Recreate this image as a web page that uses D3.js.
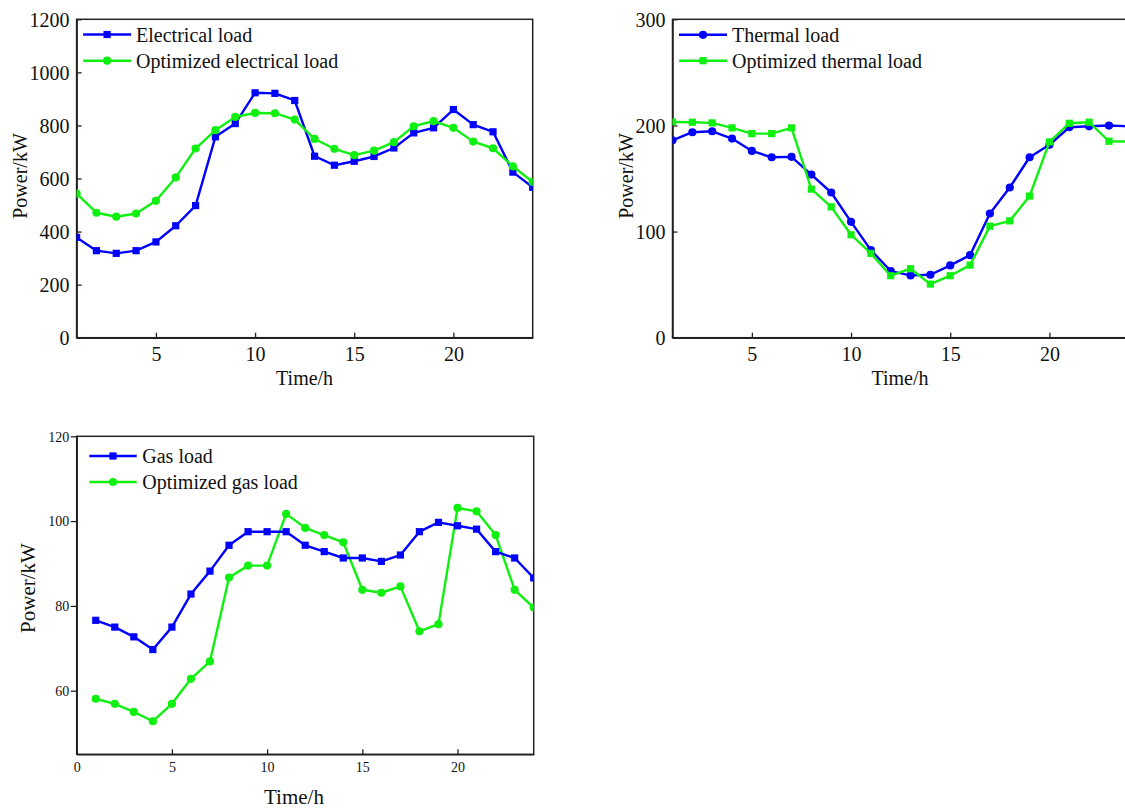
<!DOCTYPE html>
<html>
<head>
<meta charset="utf-8">
<script src="https://cdn.jsdelivr.net/npm/d3@7"></script>
<style>
  html, body { margin: 0; padding: 0; background: #fff; overflow: hidden; }
  svg { display: block; }
  text { font-family: "Liberation Serif", "Times New Roman", serif; fill: #111; }
</style>
</head>
<body>
<svg id="chart" width="1125" height="808"></svg>
<script>
// ---------- data ----------
const hours = d3.range(1, 25);

const electricalLoad = [378, 328, 318, 328, 361, 422, 498, 757, 807, 923, 921, 894,
                        684, 650, 665, 683, 715, 772, 791, 860, 803, 776, 624, 567];
const optimizedElectricalLoad = [543, 471, 456, 468, 516, 604, 713, 782, 832, 847, 846, 822,
                                 749, 712, 688, 705, 737, 797, 816, 791, 739, 714, 646, 587];

const thermalLoad = [186, 193.6, 194.5, 187.6, 176, 170, 170.4, 153.7, 136.8, 109.2, 82.5, 62.8,
                     58.7, 59.3, 68.1, 77.8, 117, 141.5, 170, 181.7, 198.3, 199.2, 199.9, 199.2];
const optimizedThermalLoad = [203.3, 203, 202.4, 197.7, 192.3, 192.3, 197.7, 140, 123.3, 97, 79.4, 58.4,
                              65, 50.5, 58.4, 68.4, 105.1, 110.1, 133.4, 184.5, 202, 203, 185.1, 184.8];

const gasLoad = [76.6, 75.0, 72.7, 69.7, 75.0, 82.8, 88.2, 94.3, 97.5, 97.5, 97.5, 94.3,
                 92.8, 91.3, 91.3, 90.5, 92.0, 97.5, 99.7, 98.9, 98.1, 92.8, 91.3, 86.6];
const optimizedGasLoad = [58.1, 56.9, 55.0, 52.8, 56.9, 62.8, 66.9, 86.7, 89.5, 89.5, 101.7, 98.4,
                          96.7, 95.0, 83.8, 83.1, 84.6, 74.0, 75.7, 103.1, 102.3, 96.7, 83.8, 79.6];

const electricalTicksY = [0, 200, 400, 600, 800, 1000, 1200];
const thermalTicksY = [0, 100, 200, 300];
const gasTicksY = [60, 80, 100, 120];
const timeTicks12 = [5, 10, 15, 20];
const timeTicks3 = [0, 5, 10, 15, 20];

const seriesNames1 = ["Electrical load", "Optimized electrical load"];
const seriesNames2 = ["Thermal load", "Optimized thermal load"];
const seriesNames3 = ["Gas load", "Optimized gas load"];
const xTitle = "Time/h";
const yTitle = "Power/kW";

const BLUE = "#0000ff";
const GREEN = "#10f010";

// ---------- drawing ----------
const svg = d3.select("#chart");
const defs = svg.append("defs");

function drawPanel(cfg) {
  const x = d3.scaleLinear().domain(cfg.xDomain).range([cfg.left, cfg.right]);
  const y = d3.scaleLinear().domain(cfg.yDomain).range([cfg.bottom, cfg.top]);
  const g = svg.append("g");

  const clipId = "clip-" + cfg.id;
  defs.append("clipPath").attr("id", clipId)
    .append("rect")
    .attr("x", cfg.left).attr("y", cfg.top)
    .attr("width", cfg.right - cfg.left).attr("height", cfg.bottom - cfg.top);

  // frame
  g.append("rect")
    .attr("x", cfg.left).attr("y", cfg.top)
    .attr("width", cfg.right - cfg.left).attr("height", cfg.bottom - cfg.top)
    .attr("fill", "none").attr("stroke", "#222").attr("stroke-width", 1.5);

  // axes
  const xAxis = d3.axisBottom(x).tickValues(cfg.xTicks).tickFormat(d3.format("d"))
    .tickSizeInner(-5).tickSizeOuter(0).tickPadding(0);
  const gx = g.append("g").attr("transform", `translate(0,${cfg.bottom})`).call(xAxis);
  gx.select(".domain").attr("stroke", "#222").attr("stroke-width", 1.5);
  gx.selectAll(".tick line").attr("stroke", "#222").attr("stroke-width", 1.3);
  gx.selectAll(".tick text")
    .attr("y", cfg.xLabelOffset).attr("dy", 0)
    .style("font-family", "Liberation Serif, serif")
    .style("font-size", cfg.tickFont + "px").attr("fill", cfg.tickColor);

  const yAxis = d3.axisLeft(y).tickValues(cfg.yTicks).tickFormat(d3.format("d"))
    .tickSizeInner(cfg.yTickSize).tickSizeOuter(0).tickPadding(cfg.yTickPad);
  const gy = g.append("g").attr("transform", `translate(${cfg.left},0)`).call(yAxis);
  gy.select(".domain").attr("stroke", "#222").attr("stroke-width", 1.5);
  gy.selectAll(".tick line").attr("stroke", "#222").attr("stroke-width", 1.3);
  gy.selectAll(".tick text")
    .attr("dy", cfg.yDy)
    .style("font-family", "Liberation Serif, serif")
    .style("font-size", cfg.tickFont + "px").attr("fill", cfg.tickColor);

  // titles
  g.append("text").attr("x", cfg.xTitleX).attr("y", cfg.xTitleY)
    .attr("text-anchor", "middle").style("font-size", cfg.titleFont + "px").text(xTitle);
  g.append("text")
    .attr("transform", `translate(${cfg.yTitleX},${cfg.yTitleY}) rotate(-90)`)
    .attr("text-anchor", "middle").style("font-size", cfg.titleFont + "px").text(yTitle);

  // series
  const plot = g.append("g").attr("clip-path", `url(#${clipId})`);
  const line = d3.line().x((d, i) => x(hours[i])).y(d => y(d));
  const order = cfg.drawOrder || [0, 1];
  order.forEach(si => {
    const s = cfg.series[si];
    plot.append("path").datum(s.values)
      .attr("fill", "none").attr("stroke", s.color).attr("stroke-width", 2.4)
      .attr("stroke-linejoin", "round").attr("d", line);
    drawMarkers(plot, s, s.values.map((v, i) => [x(hours[i]), y(v)]));
  });

  // legend
  cfg.series.forEach((s, i) => {
    const ly = cfg.legendY[i];
    const lg = g.append("g");
    lg.append("line")
      .attr("x1", cfg.left + cfg.legX1).attr("x2", cfg.left + cfg.legX2)
      .attr("y1", ly).attr("y2", ly)
      .attr("stroke", s.color).attr("stroke-width", 2.4);
    drawMarkers(lg, s, [[cfg.left + (cfg.legX1 + cfg.legX2) / 2, ly]]);
    lg.append("text").attr("x", cfg.left + cfg.legText).attr("y", ly + 7.3)
      .style("font-size", "20px").text(s.name);
  });
}

function drawMarkers(parent, s, pts) {
  if (s.marker === "square") {
    parent.selectAll(null).data(pts).enter().append("rect")
      .attr("x", d => d[0] - 3.6).attr("y", d => d[1] - 3.6)
      .attr("width", 7.2).attr("height", 7.2).attr("fill", s.color);
  } else {
    parent.selectAll(null).data(pts).enter().append("circle")
      .attr("cx", d => d[0]).attr("cy", d => d[1]).attr("r", 4.1).attr("fill", s.color);
  }
}

drawPanel({
  id: "elec", xDomain: [1, 24], yDomain: [0, 1200],
  left: 76.6, right: 532.7, top: 19.3, bottom: 337.7,
  xTicks: timeTicks12, yTicks: electricalTicksY,
  tickFont: 20, tickColor: "#111", xLabelOffset: 23.5,
  yTickSize: -5, yTickPad: 7, yDy: "0.34em",
  titleFont: 20, xTitleX: 304.6, xTitleY: 385, yTitleX: 26.5, yTitleY: 176,
  legX1: 6.5, legX2: 54.5, legText: 59.5, legendY: [34.5, 60.7],
  series: [
    { name: seriesNames1[0], values: electricalLoad, color: BLUE, marker: "square" },
    { name: seriesNames1[1], values: optimizedElectricalLoad, color: GREEN, marker: "circle" }
  ]
});

drawPanel({
  id: "therm", xDomain: [1, 24], yDomain: [0, 300],
  left: 672.5, right: 1128.8, top: 19.3, bottom: 337.7,
  xTicks: timeTicks12, yTicks: thermalTicksY,
  tickFont: 20, tickColor: "#111", xLabelOffset: 23.5,
  yTickSize: -5, yTickPad: 7, yDy: "0.34em",
  titleFont: 20, xTitleX: 900, xTitleY: 385, yTitleX: 632.5, yTitleY: 176,
  legX1: 6.5, legX2: 54.5, legText: 59.5, legendY: [34.8, 60.7],
  series: [
    { name: seriesNames2[0], values: thermalLoad, color: BLUE, marker: "circle" },
    { name: seriesNames2[1], values: optimizedThermalLoad, color: GREEN, marker: "square" }
  ]
});

drawPanel({
  id: "gas", xDomain: [0, 24], yDomain: [45, 120],
  left: 76.7, right: 533.7, top: 436.3, bottom: 754.3,
  xTicks: timeTicks3, yTicks: gasTicksY,
  tickFont: 14, tickColor: "#333", xLabelOffset: 18,
  yTickSize: 6, yTickPad: 1.5, yDy: "0.34em",
  titleFont: 21, xTitleX: 294, xTitleY: 804, yTitleX: 35, yTitleY: 588,
  legX1: 12.6, legX2: 60, legText: 65.6, legendY: [456, 482],
  drawOrder: [1, 0],
  series: [
    { name: seriesNames3[0], values: gasLoad, color: BLUE, marker: "square" },
    { name: seriesNames3[1], values: optimizedGasLoad, color: GREEN, marker: "circle" }
  ]
});
</script>
</body>
</html>
